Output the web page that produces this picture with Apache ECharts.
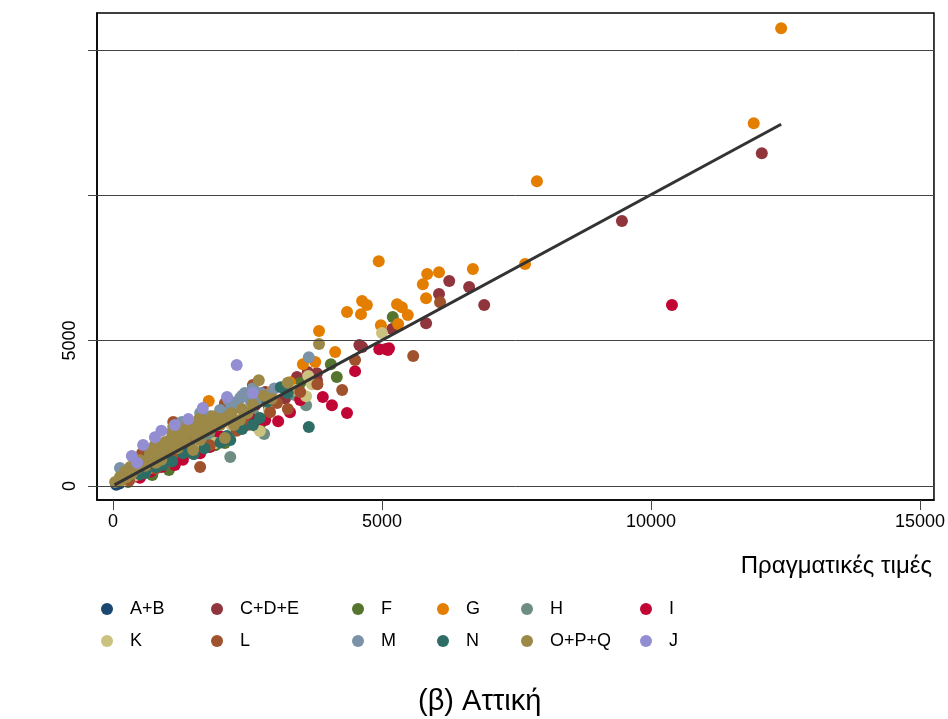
<!DOCTYPE html>
<html><head><meta charset="utf-8">
<script src="https://cdn.jsdelivr.net/npm/echarts@6/dist/echarts.min.js"></script>
<style>html,body{margin:0;padding:0;background:#fff}#c{width:948px;height:719px}</style>
</head><body><div id="c"></div>
<script>
const categories = ['A+B','C+D+E','F','G','H','I','K','L','M','N','O+P+Q','J'];
const palette = ['#1a476f','#90353b','#55752f','#e37e00','#6e8e84','#c10534','#cac27e','#a0522d','#7b92a8','#2d6d66','#9c8847','#938dd2'];
const xTicks = [0,5000,10000,15000];
const yTicks = [0,5000,10000,15000];
const yLabels = [0,5000];
const xAxisTitle = 'Πραγματικές τιμές';
const chartTitle = '(β) Αττική';

const AB = [[120,90],[260,210],[410,330],[60,40],[330,300]];
const CDE = [[12060,11440],[9460,9110],[6900,6220],[6620,6840],[6250,7050],[6060,6600],[5820,5600],[5190,5400],[4630,4780],[5070,4710],[4580,4850],[3790,3880],[3420,3750],[3790,3640],[3620,3920],[2830,3230],[3200,3020],[2640,2780],[2080,2440],[1620,1920],[1150,1480],[690,890],[410,550],[200,180],[2900,2700],[1900,1700],[300,250],[800,700],[1000,900],[1400,1200],[500,380]];
const F = [[5200,5810],[4050,4190],[4160,3750],[2270,2850],[2080,1480],[1710,1580],[2730,2100],[3480,3540],[1040,550],[730,380],[280,140],[1300,1000],[500,300],[1500,1100],[1900,1400]];
const G = [[12420,15740],[11910,12470],[7880,10480],[7660,7630],[4940,7730],[5840,7290],[6060,7350],[5760,6940],[5820,6460],[6690,7460],[4630,6360],[4720,6220],[4350,5980],[4610,5910],[5280,6250],[5370,6150],[5480,5880],[5300,5570],[4980,5530],[3830,5330],[4130,4610],[3530,4190],[3760,4260],[1780,2920],[2450,2540],[1250,1580],[500,550],[3290,3570],[2950,3250],[900,1000],[1500,1900],[2100,2300],[700,750]];
const H = [[2180,1000],[2810,1790],[3590,2780],[870,1070],[1520,1580],[320,380],[3380,3130],[2620,2450],[1200,1150],[600,500],[1800,1700]];
const I = [[10390,6220],[5130,4740],[5110,4680],[4500,3950],[3900,3060],[4070,2780],[4350,2510],[3070,2230],[3290,2540],[2300,2720],[1800,1340],[1620,1130],[1150,720],[500,280],[2550,2340],[2830,2270],[3480,2960],[4950,4700],[2000,1700],[700,500],[900,650],[1300,900],[2700,2000]];
const K = [[5000,5260],[3630,3780],[2730,1890],[3590,3090],[1900,1480],[1250,1310],[690,620],[220,210],[3400,3300],[2200,2100],[3700,3500],[400,350],[900,850],[1600,1500],[2900,2600]];
const L = [[6080,6320],[5580,4470],[4500,4330],[4260,3300],[2920,2540],[3250,2650],[2600,3470],[1620,650],[3480,3230],[3050,2850],[2080,2850],[1120,2200],[1120,1130],[540,1130],[170,280],[3800,3500],[2300,1900],[1400,1500],[800,600],[300,200],[600,450],[1000,800],[1800,1400],[2500,2100]];
const M = [[3640,4430],[2450,3200],[2640,3230],[2830,3130],[2550,2960],[2730,2960],[2360,3020],[2270,2780],[2900,3100],[2500,3100],[2680,3050],[1280,2200],[1620,2510],[690,1070],[130,620],[1990,2610],[3000,3350],[2150,2950],[300,400],[900,1300],[1800,2400],[2200,2700],[1500,2000],[2600,3350],[2750,3200],[2400,3100],[2800,3000]];
const N = [[3640,2030],[3120,3400],[2120,1720],[2400,1960],[2360,2030],[1300,1130],[1430,1340],[930,720],[350,550],[2730,2340],[2180,1580],[2870,2900],[1700,1300],[600,450],[2000,1500],[3250,3200],[500,400],[800,650],[1100,850],[1500,1100],[2600,2100],[2300,2200]];
const OPQ = [[3830,4880],[2710,3640],[2120,2370],[1670,2270],[1430,2030],[1300,1820],[1060,1580],[870,1340],[690,1130],[500,890],[320,650],[130,310],[40,140],[1490,1240],[1120,2030],[1800,1920],[1990,2100],[220,480],[410,830],[780,1410],[970,1510],[1250,1920],[1620,1580],[2080,1650],[2360,2270],[2500,2500],[2250,2100],[1550,1700],[900,900],[600,700],[250,300],[3250,3550],[2950,3000],[1850,2400],[1350,1550],[1000,1200],[150,200],[350,420],[450,600],[550,800],[650,900],[750,1000],[850,1150],[950,1300],[1050,1400],[1150,1700],[1250,1650],[1350,1800],[1450,1900],[1550,2000],[1650,2100],[1750,2200],[1900,2250],[2000,2300],[2200,2500],[2400,2650],[700,1250],[1100,1850],[1400,2150],[1600,2300],[1200,1300],[800,800],[300,450],[1700,1900],[2600,2800],[2800,3100]];
const J = [[2300,4160],[2120,3060],[1670,2680],[1150,2100],[780,1680],[560,1410],[350,1030],[1400,2300],[2600,3200],[900,1900],[450,800]];
const fitLine = [[30,40],[12420,12440]];

const seriesData = [AB,CDE,F,G,H,I,K,L,M,N,OPQ,J];
const FONT = '"Liberation Sans", Arial, sans-serif';

const chart = echarts.init(document.getElementById('c'), null, {renderer:'canvas'});
const series = [{
  type:'line', data:[], silent:true, z:1,
  markLine:{silent:true, symbol:['none','none'], animation:false, label:{show:false},
    lineStyle:{color:'#444', width:1, type:'solid'},
    data: yTicks.map(v => ({yAxis:v}))}
}];
categories.forEach((name,i)=>{
  series.push({name, type:'scatter', data:seriesData[i], symbol:'circle', symbolSize:12,
    itemStyle:{color:palette[i], opacity:1}, z:2, animation:false});
});
series.push({type:'line', data:fitLine, showSymbol:false, symbol:'none', z:3, silent:true,
  lineStyle:{color:'#333', width:3}, animation:false});

const legendCols = [[0,6],[1,7],[2,8],[3,9],[4,10],[5,11]];
const legendLefts = [101,211,352,437,521,640];
const legends = legendCols.map((c,k)=>({
  orient:'vertical', left:legendLefts[k], top:600, padding:0, itemGap:14,
  itemWidth:36, itemHeight:12, icon:'circle', selectedMode:false,
  textStyle:{fontFamily:FONT, fontSize:18, color:'#000'},
  data:c.map(i=>categories[i])
}));

chart.setOption({
  backgroundColor:'#fff',
  animation:false,
  title:[
    {text:xAxisTitle, right:16, top:554, padding:0, textStyle:{fontFamily:FONT, fontSize:24, fontWeight:'normal', color:'#000'}},
    {text:chartTitle, left:418, top:687, padding:0, textStyle:{fontFamily:FONT, fontSize:29, fontWeight:'normal', color:'#000'}}
  ],
  legend:legends,
  grid:{left:97, right:14, top:13, bottom:219, show:true, borderColor:'#000', borderWidth:1.5, containLabel:false},
  xAxis:{type:'value', min:-297, max:15260,
    axisLine:{show:true, onZero:false, lineStyle:{color:'#000', width:1.5}},
    axisTick:{show:true, customValues:xTicks, length:10, lineStyle:{color:'#444'}},
    axisLabel:{customValues:xTicks, margin:13, fontFamily:FONT, fontSize:18, color:'#000', formatter:v=>String(v)},
    splitLine:{show:false}},
  yAxis:{type:'value', min:-481, max:16264,
    axisLine:{show:true, onZero:false, lineStyle:{color:'#000', width:1.5}},
    axisTick:{show:true, customValues:yTicks, length:9, lineStyle:{color:'#444'}},
    axisLabel:{customValues:yLabels, rotate:90, margin:18, fontFamily:FONT, fontSize:18, color:'#000', formatter:v=>String(v)},
    splitLine:{show:false}},
  series
});
</script></body></html>
